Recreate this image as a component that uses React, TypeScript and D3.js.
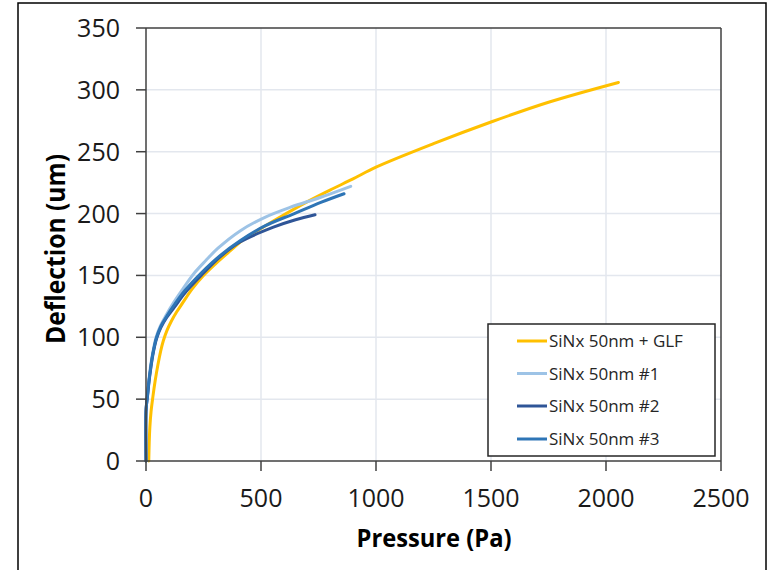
import React from "react";
import * as d3 from "d3";

const xTicks = [0, 500, 1000, 1500, 2000, 2500];
const yTicks = [0, 50, 100, 150, 200, 250, 300, 350];

const seriesNames = ["SiNx 50nm + GLF", "SiNx 50nm #1", "SiNx 50nm #2", "SiNx 50nm #3"];
const seriesColors = ["#FFC000", "#9DC3E6", "#2F5597", "#2E75B6"];

const glfData: [number, number][] = [
  [12, 0], [14, 15], [17, 28], [22, 40], [30, 52], [40, 65], [52, 78], [64, 89], [75, 97],
  [90, 105], [110, 113], [135, 121], [160, 128], [200, 139], [250, 150], [300, 159],
  [367, 170], [430, 180], [500, 188], [600, 199], [700, 209.5], [800, 219], [900, 228],
  [1000, 237.5], [1250, 256.5], [1500, 274], [1750, 290], [2054, 306],
];
const s1Data: [number, number][] = [
  [0, 0], [0, 40], [3, 48], [7, 55], [13, 66], [20, 77], [30, 88], [44, 100], [62, 109],
  [88, 118], [120, 128], [160, 139], [206, 151], [260, 162], [313, 172], [409, 186],
  [517, 197], [626, 205], [757, 213], [890, 222],
];
const s2Data: [number, number][] = [
  [0, 0], [0, 40], [3, 47], [7, 53], [13, 64], [20, 74], [30, 86], [46, 99], [65, 108],
  [90, 116], [126, 125], [170, 136], [240, 150], [322, 165], [409, 177], [554, 189],
  [650, 195], [735, 199],
];
const s3Data: [number, number][] = [
  [0, 0], [0, 40], [3, 47], [7, 54], [13, 65], [20, 75], [30, 87], [46, 100], [65, 109],
  [90, 117], [126, 127], [170, 138], [240, 152], [322, 166], [409, 178], [517, 190],
  [645, 200], [760, 209], [861, 216],
];
const allSeries = [glfData, s1Data, s2Data, s3Data];

const W = 769;
const H = 570;
const L = 146, R = 721, T = 28, B = 461;

export default function App() {
  const x = d3.scaleLinear().domain([0, 2500]).range([L, R]);
  const y = d3.scaleLinear().domain([0, 350]).range([B, T]);
  const lineV = d3
    .line<[number, number]>()
    .x((d) => x(d[0]))
    .y((d) => y(d[1]))
    .curve(d3.curveCatmullRom.alpha(0.5));

  const font = "'Open Sans', sans-serif";
  const legX = 488, legY = 324, legW = 227, legH = 132;
  const legRowY = [341, 373.5, 406, 439];

  return (
    <svg
      width={W}
      height={H}
      style={{ position: "fixed", left: 0, top: 0, background: "#fff" }}
      fontFamily={font}
    >
      <rect x={0} y={0} width={W} height={H} fill="#fff" />
      <rect x={18} y={3} width={748} height={700} fill="none" stroke="#000" strokeWidth={1.5} />
      {xTicks.slice(1, -1).map((t) => (
        <line key={"gx" + t} x1={x(t)} x2={x(t)} y1={T} y2={B} stroke="#E3E7EE" strokeWidth={1.5} />
      ))}
      {yTicks.slice(1, -1).map((t) => (
        <line key={"gy" + t} x1={L} x2={R} y1={y(t)} y2={y(t)} stroke="#E3E7EE" strokeWidth={1.5} />
      ))}
      <line x1={L} x2={R} y1={T} y2={T} stroke="#404040" strokeWidth={1.5} />
      <line x1={R} x2={R} y1={T} y2={B} stroke="#404040" strokeWidth={1.5} />
      {allSeries.map((s, i) => (
        <path
          key={"s" + i}
          d={lineV(s) || ""}
          fill="none"
          stroke={seriesColors[i]}
          strokeWidth={3}
          strokeLinejoin="round"
          strokeLinecap="round"
        />
      ))}
      <line x1={L} x2={L} y1={T} y2={B} stroke="#404040" strokeWidth={1.5} />
      <line x1={L} x2={R} y1={B} y2={B} stroke="#404040" strokeWidth={1.5} />
      {yTicks.map((t) => (
        <g key={"yt" + t}>
          <line x1={L - 10} x2={L} y1={y(t)} y2={y(t)} stroke="#404040" strokeWidth={1.5} />
          <text x={120} y={y(t) + 9} textAnchor="end" fontSize={25} fill="#1a1a1a">
            {t}
          </text>
        </g>
      ))}
      {xTicks.map((t) => (
        <g key={"xt" + t}>
          <line x1={x(t)} x2={x(t)} y1={B} y2={B + 10} stroke="#404040" strokeWidth={1.5} />
          <text x={x(t)} y={507} textAnchor="middle" fontSize={25} fill="#1a1a1a">
            {t}
          </text>
        </g>
      ))}
      <text
        x={434}
        y={547}
        textAnchor="middle"
        fontSize={25}
        fontWeight="bold"
        fill="#000"
        textLength={155}
        lengthAdjust="spacingAndGlyphs"
      >
        Pressure (Pa)
      </text>
      <text
        transform={`translate(65, 249) rotate(-90)`}
        textAnchor="middle"
        fontSize={26}
        fontWeight="bold"
        fill="#000"
        textLength={190}
        lengthAdjust="spacingAndGlyphs"
      >
        Deflection (um)
      </text>
      <rect x={legX} y={legY} width={legW} height={legH} fill="#fff" stroke="#262626" strokeWidth={1.5} />
      {seriesNames.map((n, i) => (
        <g key={"lg" + i}>
          <line x1={517} x2={547} y1={legRowY[i]} y2={legRowY[i]} stroke={seriesColors[i]} strokeWidth={3} />
          <text x={549} y={legRowY[i] + 6} fontSize={17} fill="#262626">
            {n}
          </text>
        </g>
      ))}
    </svg>
  );
}
